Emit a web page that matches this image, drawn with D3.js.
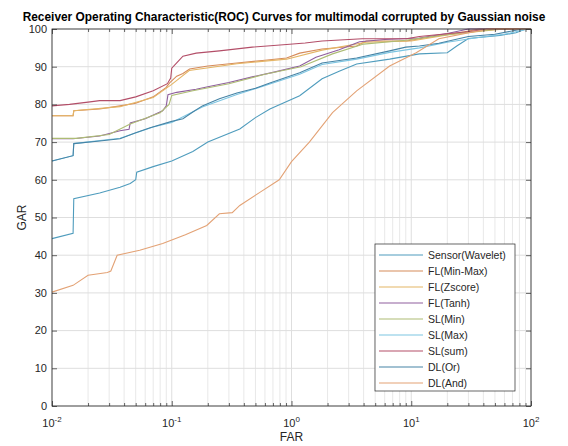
<!DOCTYPE html>
<html>
<head>
<meta charset="utf-8">
<script src="https://cdn.jsdelivr.net/npm/d3@7/dist/d3.min.js"></script>
<style>
  body { margin: 0; background: #fff; }
  svg { display: block; font-family: "Liberation Sans", Arial, sans-serif; }
</style>
</head>
<body>
<svg id="chart" width="568" height="446"></svg>
<script>
// ROC curves: FAR (log) vs GAR
const seriesNames = ["Sensor(Wavelet)", "FL(Min-Max)", "FL(Zscore)", "FL(Tanh)",
  "SL(Min)", "SL(Max)", "SL(sum)", "DL(Or)", "DL(And)"];
const seriesColors = ["#4f9cbd", "#d68b5a", "#e4b565", "#8f5e9e",
  "#adbc74", "#7cc5e2", "#b34e68", "#4684a6", "#e3a275"];

const sensorWavelet = [[0.01,44.4],[0.015,45.8],[0.0152,55],[0.025,56.5],[0.037,58],[0.045,59],[0.05,60],
  [0.051,62],[0.07,63.5],[0.1,65],[0.15,67.5],[0.2,70],[0.37,73.5],[0.5,76.5],[0.66,78.8],[1.17,82.3],
  [1.8,86.8],[2.5,88.8],[3.5,90.7],[6.6,92],[11.7,93.4],[20,93.7],[24,95.5],[30,97.5],[55,98.3],[75,99],
  [90,100],[100,100]];
const flMinMax = [[0.01,77],[0.015,77],[0.0152,78.3],[0.025,78.8],[0.037,79.6],[0.05,80.3],[0.07,82],
  [0.09,84.5],[0.096,85.7],[0.11,87.5],[0.124,88.2],[0.141,89.4],[0.2,90.2],[0.35,91],[0.6,91.7],
  [0.91,92.3],[1.17,93.6],[1.8,94.7],[3.5,95.5],[4.2,96.8],[9.1,96.8],[14,97.8],[25,99],[37,100],[100,100]];
const flZscore = [[0.01,77],[0.015,77],[0.0152,78.3],[0.037,79.4],[0.07,81.8],[0.1,85.3],[0.14,89],
  [0.35,90.8],[0.91,92],[1.8,94.4],[4.2,96.5],[10,96.8],[20,98.4],[40,99.5],[60,100],[100,100]];
const flTanh = [[0.01,70.9],[0.015,70.9],[0.025,71.6],[0.037,73],[0.044,73.4],[0.045,75.1],[0.06,76.2],
  [0.084,78.3],[0.09,79.6],[0.093,82.6],[0.11,83.2],[0.16,84],[0.2,84.7],[0.3,85.8],[0.47,87.3],
  [0.7,88.5],[1.17,90.2],[1.6,92.5],[2.5,94.5],[3.7,96.6],[6,97.2],[11.7,97.6],[20,98.8],[30,100],[100,100]];
const slMin = [[0.01,71],[0.016,71],[0.03,72],[0.045,74.8],[0.08,77.8],[0.095,80],[0.1,82.4],[0.15,83.6],
  [0.3,85.5],[0.6,88],[1.2,90],[2.2,93.4],[4,96],[9,97],[15,98],[35,99.4],[55,100],[100,100]];
const slMax = [[0.01,65],[0.015,66.4],[0.0152,69.6],[0.037,71],[0.07,74],[0.1,75.2],[0.18,79.3],
  [0.35,82.6],[0.66,85.4],[1.17,88],[1.8,90.6],[3.5,92],[6.6,93.8],[11.7,95],[20,96.5],[35,97.7],
  [60,98.6],[95,100],[100,100]];
const slSum = [[0.01,79.6],[0.014,80],[0.02,80.6],[0.025,81],[0.037,81],[0.05,82],[0.07,83.6],
  [0.092,85.5],[0.098,87],[0.1,89.6],[0.11,91],[0.124,92.8],[0.16,93.6],[0.25,94.2],[0.47,95.2],
  [0.91,95.9],[1.3,96.3],[1.8,96.8],[3.9,97.4],[9.1,97.4],[11.7,98],[18,98.6],[28,99.2],[45,100],[100,100]];
const dlOr = [[0.01,65],[0.015,66.4],[0.0152,69.6],[0.025,70.3],[0.037,70.9],[0.05,72.5],[0.066,73.8],
  [0.1,75.5],[0.124,76.2],[0.15,78],[0.18,79.6],[0.25,81.5],[0.35,83],[0.5,84.3],[0.66,85.7],[1.17,88.4],
  [1.8,91],[3.5,92.3],[6.6,94.2],[9,95.2],[11.7,95.5],[17,96.2],[30,98],[50,98.6],[85,100],[100,100]];
const dlAnd = [[0.01,30.2],[0.015,32],[0.02,34.7],[0.029,35.4],[0.031,35.8],[0.035,40],[0.054,41.3],
  [0.084,43.1],[0.13,45.4],[0.196,47.9],[0.25,51],[0.32,51.3],[0.37,53.2],[0.54,56.6],[0.79,60],
  [1,64.8],[1.41,70],[2.2,77.8],[3.5,83.6],[6.6,90.2],[11,93.7],[17,97.4],[29,98.9],[45,100],[100,100]];

const seriesValues = [sensorWavelet, flMinMax, flZscore, flTanh, slMin, slMax, slSum, dlOr, dlAnd];

const xDecades = [0.01, 0.1, 1, 10, 100];
const xDecadeExp = ["-2", "-1", "0", "1", "2"];
const yTicks = [0, 10, 20, 30, 40, 50, 60, 70, 80, 90, 100];

const titleText = "Receiver Operating Characteristic(ROC) Curves for multimodal corrupted by Gaussian noise";

(function () {
  const pLeft = 52, pRight = 531, pTop = 29, pBottom = 406;
  const svg = d3.select("#chart");
  const axisColor = "#262626";

  const x = d3.scaleLog().domain([0.01, 100]).range([pLeft, pRight]);
  const y = d3.scaleLinear().domain([0, 100]).range([pBottom, pTop]);

  const minorTicks = [];
  xDecades.slice(0, -1).forEach(d => {
    for (let k = 2; k <= 9; k++) minorTicks.push(d * k);
  });

  // grid
  const grid = svg.append("g");
  grid.selectAll(".vminor").data(minorTicks).join("line")
    .attr("x1", d => x(d)).attr("x2", d => x(d))
    .attr("y1", pTop).attr("y2", pBottom)
    .attr("stroke", "#e8e8e8").attr("stroke-width", 1);
  grid.selectAll(".vmajor").data(xDecades).join("line")
    .attr("x1", d => x(d)).attr("x2", d => x(d))
    .attr("y1", pTop).attr("y2", pBottom)
    .attr("stroke", "#dedede").attr("stroke-width", 1);
  grid.selectAll(".hmajor").data(yTicks).join("line")
    .attr("x1", pLeft).attr("x2", pRight)
    .attr("y1", d => y(d)).attr("y2", d => y(d))
    .attr("stroke", "#dedede").attr("stroke-width", 1);

  // curves
  const line = d3.line().x(d => x(d[0])).y(d => y(d[1]));
  const plot = svg.append("g");
  seriesValues.forEach((vals, i) => {
    plot.append("path")
      .attr("d", line(vals))
      .attr("fill", "none")
      .attr("stroke", seriesColors[i])
      .attr("stroke-width", 1.1);
  });

  // axes (ticks inward, box on)
  function styleAxis(g) {
    g.select(".domain").remove();
    g.selectAll(".tick line").attr("stroke", axisColor).attr("stroke-width", 0.7);
    g.selectAll(".tick text").remove();
  }
  svg.append("g").attr("transform", `translate(0,${pBottom})`)
    .call(d3.axisBottom(x).tickValues(xDecades).tickSize(-5)).call(styleAxis);
  svg.append("g").attr("transform", `translate(0,${pBottom})`)
    .call(d3.axisBottom(x).tickValues(minorTicks).tickSize(-3)).call(styleAxis);
  svg.append("g").attr("transform", `translate(0,${pTop})`)
    .call(d3.axisTop(x).tickValues(xDecades).tickSize(-5)).call(styleAxis);
  svg.append("g").attr("transform", `translate(0,${pTop})`)
    .call(d3.axisTop(x).tickValues(minorTicks).tickSize(-3)).call(styleAxis);
  svg.append("g").attr("transform", `translate(${pLeft},0)`)
    .call(d3.axisLeft(y).tickValues(yTicks).tickSize(-5)).call(styleAxis);
  svg.append("g").attr("transform", `translate(${pRight},0)`)
    .call(d3.axisRight(y).tickValues(yTicks).tickSize(-5)).call(styleAxis);

  svg.append("rect")
    .attr("x", pLeft).attr("y", pTop)
    .attr("width", pRight - pLeft).attr("height", pBottom - pTop)
    .attr("fill", "none").attr("stroke", axisColor).attr("stroke-width", 0.8);

  // tick labels
  svg.append("g").selectAll("text").data(yTicks).join("text")
    .attr("x", pLeft - 5).attr("y", d => y(d)).attr("dy", "0.35em")
    .attr("text-anchor", "end").attr("font-size", 11).attr("fill", axisColor)
    .text(d => d);

  const xLab = svg.append("g").selectAll("text").data(xDecades).join("text")
    .attr("x", d => x(d)).attr("y", pBottom + 21)
    .attr("text-anchor", "middle").attr("font-size", 11).attr("fill", axisColor);
  xLab.append("tspan").text("10");
  xLab.append("tspan").attr("dy", -5).attr("font-size", 8).text((d, i) => xDecadeExp[i]);

  // axis titles
  svg.append("text")
    .attr("x", (pLeft + pRight) / 2).attr("y", 441)
    .attr("text-anchor", "middle").attr("font-size", 12).attr("fill", axisColor)
    .text("FAR");
  svg.append("text")
    .attr("transform", `translate(26,${(pTop + pBottom) / 2}) rotate(-90)`)
    .attr("text-anchor", "middle").attr("font-size", 12).attr("fill", axisColor)
    .text("GAR");

  svg.append("text")
    .attr("x", 284).attr("y", 21)
    .attr("text-anchor", "middle").attr("font-size", 11.9).attr("font-weight", "bold")
    .attr("fill", "#000")
    .text(titleText);

  // legend
  const legX = 375, legY = 244, legW = 140, legH = 147, rowH = 16;
  const legend = svg.append("g");
  legend.append("rect")
    .attr("x", legX).attr("y", legY).attr("width", legW).attr("height", legH)
    .attr("fill", "#fff").attr("stroke", axisColor).attr("stroke-width", 0.7);
  seriesNames.forEach((name, i) => {
    const cy = legY + 11 + i * rowH;
    legend.append("line")
      .attr("x1", legX + 4).attr("x2", legX + 48)
      .attr("y1", cy).attr("y2", cy)
      .attr("stroke", seriesColors[i]).attr("stroke-width", 1.1);
    legend.append("text")
      .attr("x", legX + 53).attr("y", cy).attr("dy", "0.35em")
      .attr("font-size", 10.5).attr("fill", axisColor)
      .text(name);
  });
})();
</script>
</body>
</html>
